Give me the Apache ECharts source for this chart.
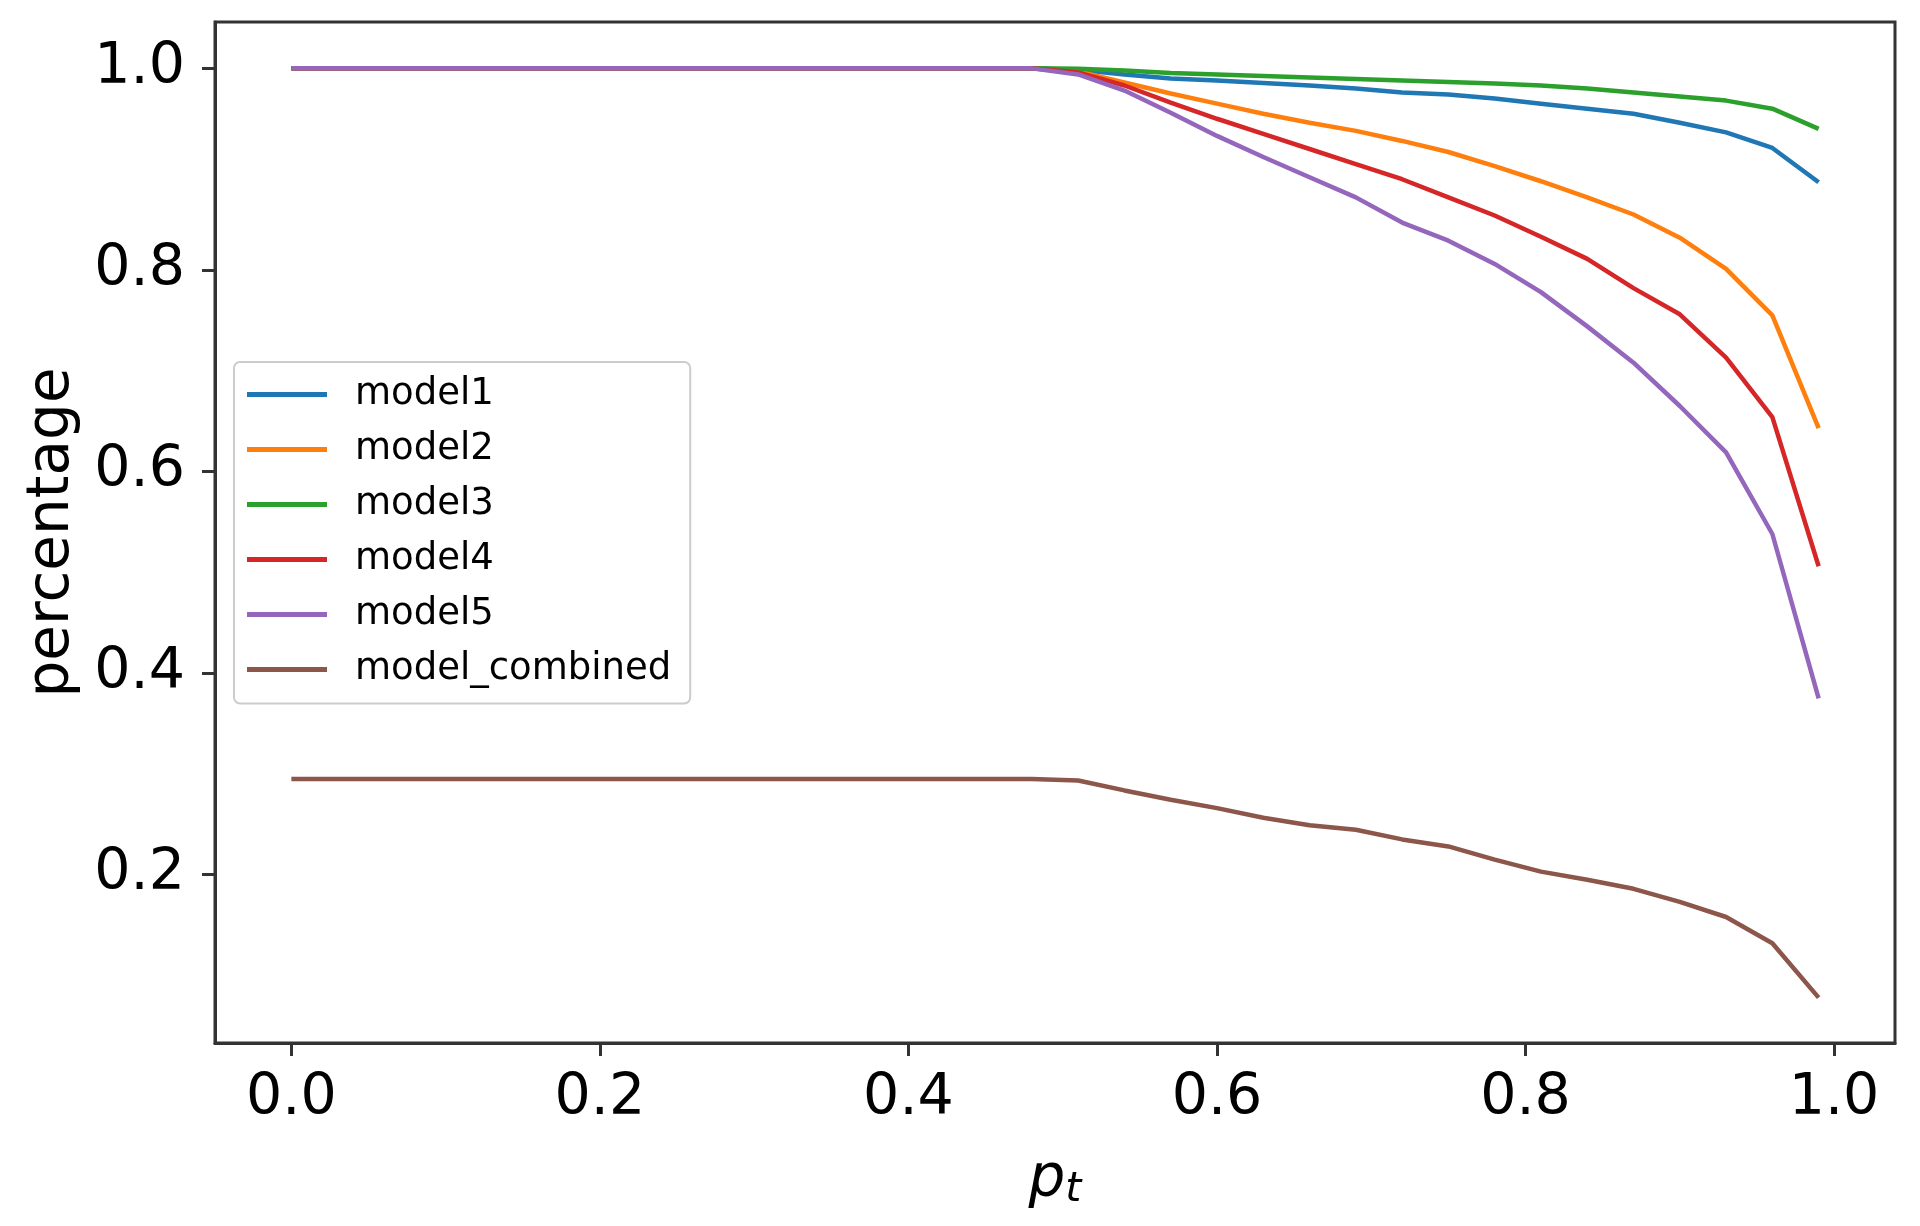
<!DOCTYPE html>
<html>
<head>
<meta charset="utf-8">
<script src="https://cdn.jsdelivr.net/npm/echarts@6/dist/echarts.min.js"></script>
<style>
html,body{margin:0;padding:0;background:#fff;}
#chart{width:1920px;height:1226px;}
</style>
</head>
<body>
<div id="chart"></div>
<script>
const pt = [0,0.03,0.06,0.09,0.12,0.15,0.18,0.21,0.24,0.27,0.30,0.33,0.36,0.39,0.42,0.45,0.48,0.51,0.54,0.57,0.60,0.63,0.66,0.69,0.72,0.75,0.78,0.81,0.84,0.87,0.90,0.93,0.96,0.99];

const model1 = [1,1,1,1,1,1,1,1,1,1,1,1,1,1,1,1,1,0.9985,0.994,0.990,0.988,0.9855,0.983,0.980,0.976,0.974,0.970,0.965,0.960,0.955,0.946,0.9365,0.921,0.887];
const model2 = [1,1,1,1,1,1,1,1,1,1,1,1,1,1,1,1,1,0.997,0.986,0.975,0.965,0.955,0.946,0.938,0.928,0.917,0.903,0.888,0.872,0.855,0.832,0.801,0.755,0.643];
const model3 = [1,1,1,1,1,1,1,1,1,1,1,1,1,1,1,1,1,0.9995,0.998,0.9955,0.994,0.9925,0.991,0.9895,0.988,0.9865,0.985,0.983,0.980,0.976,0.972,0.968,0.960,0.940];
const model4 = [1,1,1,1,1,1,1,1,1,1,1,1,1,1,1,1,1,0.996,0.983,0.966,0.950,0.935,0.920,0.905,0.890,0.872,0.854,0.833,0.811,0.782,0.756,0.713,0.654,0.506];
const model5 = [1,1,1,1,1,1,1,1,1,1,1,1,1,1,1,1,1,0.994,0.978,0.956,0.933,0.912,0.892,0.872,0.847,0.829,0.806,0.778,0.744,0.708,0.665,0.619,0.538,0.375];
const modelCombined = [0.295,0.295,0.295,0.295,0.295,0.295,0.295,0.295,0.295,0.295,0.295,0.295,0.295,0.295,0.295,0.295,0.295,0.2935,0.2836,0.2744,0.266,0.2565,0.249,0.2446,0.235,0.228,0.215,0.203,0.195,0.186,0.173,0.158,0.132,0.078];

const seriesNames = ['model1','model2','model3','model4','model5','model_combined'];
const seriesValues = [model1, model2, model3, model4, model5, modelCombined];
const seriesColors = ['#1f77b4','#ff7f0e','#2ca02c','#d62728','#9467bd','#8c564b'];

const xTicks = [0.0,0.2,0.4,0.6,0.8,1.0];
const yTicks = [0.2,0.4,0.6,0.8,1.0];

const FONT = 'DejaVu Sans';
const chart = echarts.init(document.getElementById('chart'), null, {renderer:'canvas'});

const series = seriesNames.map((name, k) => ({
  name: name,
  type: 'line',
  data: pt.map((x, i) => [x, seriesValues[k][i]]),
  symbol: 'none',
  showSymbol: false,
  lineStyle: {width: 4.5, color: seriesColors[k]},
  itemStyle: {color: seriesColors[k]},
  emphasis: {disabled: true},
  animation: false,
  z: 2 + k
}));

const axisLineStyle = {color: '#333333', width: 3};

chart.setOption({
  backgroundColor: '#ffffff',
  animation: false,
  textStyle: {fontFamily: FONT},
  grid: {
    left: 215, right: 25, top: 22, bottom: 183,
    show: true, borderColor: '#333333', borderWidth: 3, backgroundColor: '#ffffff'
  },
  legend: {
    orient: 'vertical',
    left: 234, top: 362,
    icon: 'rect',
    itemWidth: 80, itemHeight: 5,
    itemGap: 15,
    padding: [12.5, 19, 14, 13],
    backgroundColor: 'rgba(255,255,255,0.8)',
    borderColor: '#cccccc', borderWidth: 2, borderRadius: 6,
    textStyle: {fontFamily: FONT, fontSize: 37, color: '#000', lineHeight: 40, padding: [0,0,0,23]},
    data: seriesNames
  },
  xAxis: {
    type: 'value',
    min: -0.0495, max: 1.0395,
    splitLine: {show: false},
    axisLine: {show: true, onZero: false, lineStyle: axisLineStyle},
    axisTick: {show: true, inside: false, length: 13, lineStyle: axisLineStyle, customValues: xTicks},
    axisLabel: {fontFamily: FONT, fontSize: 57, color: '#000', margin: 28, customValues: xTicks,
      formatter: v => v.toFixed(1)},
    name: '{p|p}{t|t}',
    nameLocation: 'middle',
    nameGap: 107,
    nameTextStyle: {
      rich: {
        p: {fontFamily: FONT, fontStyle: 'italic', fontSize: 58, color: '#000'},
        t: {fontFamily: FONT, fontStyle: 'italic', fontSize: 41, color: '#000', padding: [20,0,0,0], verticalAlign: 'bottom'}
      }
    }
  },
  yAxis: {
    type: 'value',
    min: 0.033, max: 1.046,
    splitLine: {show: false},
    axisLine: {show: true, onZero: false, lineStyle: axisLineStyle},
    axisTick: {show: true, inside: false, length: 13, lineStyle: axisLineStyle, customValues: yTicks},
    axisLabel: {fontFamily: FONT, fontSize: 57, color: '#000', margin: 30, customValues: yTicks,
      formatter: v => v.toFixed(1)},
    name: 'percentage',
    nameLocation: 'middle',
    nameGap: 133,
    nameTextStyle: {fontFamily: FONT, fontSize: 58, color: '#000'}
  },
  series: series
});
</script>
</body>
</html>
